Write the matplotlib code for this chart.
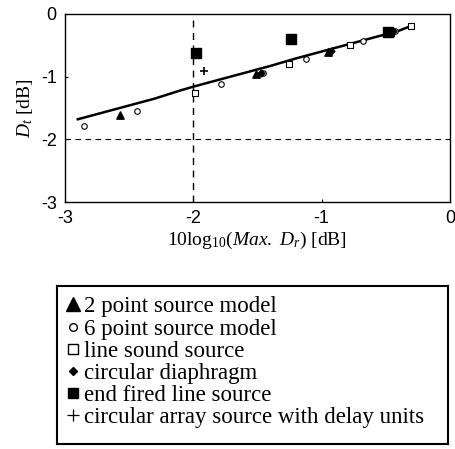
import numpy as np
import matplotlib.pyplot as plt
from matplotlib.lines import Line2D

plt.rcParams['mathtext.fontset'] = 'custom'
plt.rcParams['mathtext.rm'] = 'Liberation Serif'
plt.rcParams['mathtext.it'] = 'Liberation Serif:italic'

# fitted curve
line_x = [-2.9, -2.7, -2.5, -2.3, -2.1, -2.0, -1.8, -1.6, -1.4, -1.2, -1.0, -0.8, -0.6, -0.4, -0.3]
line_y = [-1.68, -1.57, -1.46, -1.35, -1.22, -1.16, -1.05, -0.94, -0.83, -0.71, -0.60, -0.49, -0.38, -0.27, -0.19]

# measured / modelled points per source type
tri_x = [-2.57, -1.51, -0.95]
tri_y = [-1.61, -0.96, -0.60]
circ_x = [-2.85, -2.44, -1.78, -1.455, -1.12, -0.675, -0.43]
circ_y = [-1.78, -1.55, -1.12, -0.94, -0.72, -0.43, -0.27]
sq_x = [-1.99, -1.25, -0.78, -0.46, -0.30]
sq_y = [-1.265, -0.80, -0.495, -0.30, -0.19]
dia_x = [-1.47, -0.93, -0.44]
dia_y = [-0.95, -0.59, -0.27]
fsq_x = [-1.975, -1.24, -0.48]
fsq_y = [-0.63, -0.40, -0.29]
plus_x = [-1.92]
plus_y = [-0.91]

labels = ["2 point source model", "6 point source model", "line sound source",
          "circular diaphragm", "end fired line source",
          "circular array source with delay units"]

serif = ['Liberation Serif', 'DejaVu Serif']
sans = ['Liberation Sans', 'DejaVu Sans']

fig = plt.figure(figsize=(4.56, 4.49), dpi=100)
ax = fig.add_axes([0.1425, 0.550, 0.844, 0.419])

ax.axvline(-2, color='k', lw=1.0, ls=(0, (5, 4)))
ax.axhline(-2, color='k', lw=0.8, ls=(0, (5, 4)))
ax.plot(line_x, line_y, color='k', lw=1.8, zorder=2)

ax.scatter(sq_x, sq_y, marker='s', s=16, facecolor='white', edgecolor='k', lw=0.8, zorder=3)
ax.scatter(circ_x, circ_y, marker='o', s=16, facecolor='white', edgecolor='k', lw=0.8, zorder=3)
ax.scatter(tri_x, tri_y, marker='^', s=28, color='k', zorder=4)
ax.scatter(dia_x, dia_y, marker='D', s=12, color='k', zorder=4)
ax.scatter(fsq_x, fsq_y, marker='s', s=55, color='k', zorder=4)
ax.scatter(plus_x, plus_y, marker='+', s=30, color='k', lw=1.2, zorder=4)

ax.set_xlim(-3, 0)
ax.set_ylim(-3, 0)
ax.set_xticks([-3, -2, -1, 0])
ax.set_yticks([0, -1, -2, -3])
ax.set_xticklabels(['-3', '-2', '-1', '0'], family=sans, fontsize=13)
ax.set_yticklabels(['0', '-1', '-2', '-3'], family=sans, fontsize=13)
ax.tick_params(direction='in', length=2, width=0.8, pad=6)
for sp in ax.spines.values():
    sp.set_linewidth(1.0)

ax.set_xlabel(r'10log$_{10}$($\mathit{Max.}$ $\mathit{D_r}$) [dB]', family=serif, fontsize=14, labelpad=2)
ax.set_ylabel(r'$\mathit{D_t}$ [dB]', family=serif, fontsize=14, labelpad=4)

# legend panel
lax = fig.add_axes([0.125, 0.011, 0.857, 0.352])
lax.set_xticks([])
lax.set_yticks([])
for sp in lax.spines.values():
    sp.set_linewidth(1.5)

handles = [
    Line2D([], [], marker='^', ls='', color='k', markersize=10),
    Line2D([], [], marker='o', ls='', mfc='white', mec='k', markersize=5.5),
    Line2D([], [], marker='s', ls='', mfc='white', mec='k', markersize=6.5),
    Line2D([], [], marker='D', ls='', color='k', markersize=4.5),
    Line2D([], [], marker='s', ls='', color='k', markersize=6.5),
    Line2D([], [], marker='+', ls='', color='k', markersize=9, mew=0.9),
]
lax.legend(handles, labels, loc='upper left', frameon=False, handlelength=0.5,
           handletextpad=0.25, labelspacing=0.05, borderaxespad=0.15,
           borderpad=0.3, prop={'family': serif, 'size': 16.5})

fig.savefig('out.png', dpi=100)
